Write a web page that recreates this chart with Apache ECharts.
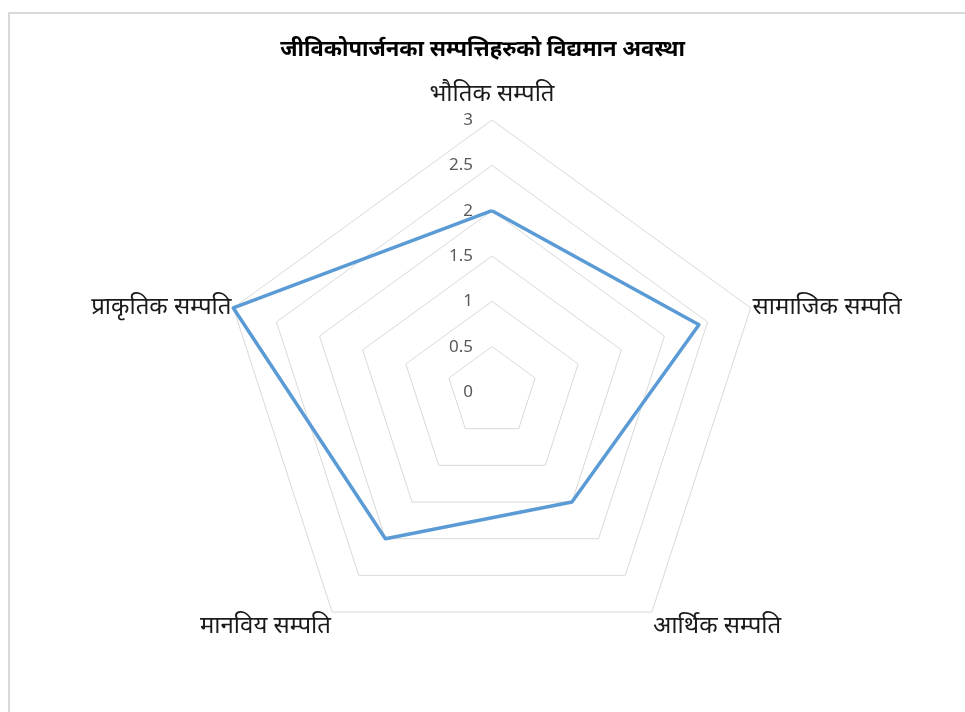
<!DOCTYPE html>
<html>
<head>
<meta charset="utf-8">
<script src="https://cdn.jsdelivr.net/npm/echarts@6/dist/echarts.min.js"></script>
<style>
  html, body { margin: 0; padding: 0; background: #fff; }
  #frame { position: absolute; left: 8px; top: 12px; right: -10px; bottom: -10px;
           border-top: 2px solid #d9d9d9; border-left: 2px solid #d9d9d9; }
  #main { position: absolute; left: 0; top: 0; width: 965px; height: 712px; }
</style>
</head>
<body>
<div id="frame"></div>
<div id="main"></div>
<script>
// indicators listed counter-clockwise from the top (ECharts radar order)
var categories = ['भौतिक सम्पति', 'प्राकृतिक सम्पति', 'मानविय सम्पति', 'आर्थिक सम्पति', 'सामाजिक सम्पति']
var values = [2, 3, 2, 1.5, 2.4]
var axisMax = 3
var axisSplit = 6

var font = '"Noto Sans", "DejaVu Sans", sans-serif'
// distance of each name from its outer vertex
var gaps = [14, 2, 2, 2, 2]

var indicator = categories.map(function (c, i) {
  var ind = { name: c, min: 0, max: axisMax, nameGap: gaps[i] }
  if (i === 0) {
    // only the top axis carries the value labels
    ind.axisLabel = { show: true, color: '#595959', fontSize: 17, fontFamily: font, margin: 19 }
  }
  if (i === 2 || i === 3) {
    // bottom names hang below their vertex
    ind.nameTextStyle = { verticalAlign: 'top' }
  }
  return ind
})

var chart = echarts.init(document.getElementById('main'))
chart.setOption({
  animation: false,
  title: {
    text: 'जीविकोपार्जनका सम्पत्तिहरुको विद्यमान अवस्था',
    left: 'center',
    top: 34,
    textStyle: { fontSize: 22, fontWeight: 'bold', color: '#000', fontFamily: font }
  },
  radar: {
    center: [492, 392],
    radius: 272,
    shape: 'polygon',
    splitNumber: axisSplit,
    indicator: indicator,
    axisName: { color: '#1a1a1a', fontSize: 24, fontFamily: font },
    nameGap: 8,
    axisLine: { show: false },
    axisTick: { show: false },
    axisLabel: { show: false },
    splitArea: { show: false },
    splitLine: { lineStyle: { color: '#d9d9d9', width: 1 } }
  },
  series: [{
    type: 'radar',
    symbol: 'none',
    lineStyle: { color: '#5b9bd5', width: 3.5 },
    data: [{ value: values, name: 'सम्पति' }]
  }]
})
</script>
</body>
</html>
